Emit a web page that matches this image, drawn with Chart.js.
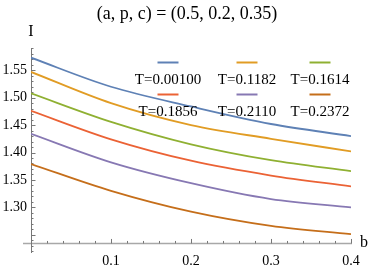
<!DOCTYPE html>
<html lang="en">
<head>
    <meta charset="UTF-8">
    <title>I vs b</title>
    <style>
        body {
            margin: 0;
            padding: 0;
            background: #ffffff;
        }
    </style>
</head>
<body>
    <canvas id="chart" width="374" height="268"></canvas>

    <script src="https://cdn.jsdelivr.net/npm/chart.js"></script>
    <script>
        // valores
        const bValues = [0, 0.1, 0.2, 0.3, 0.4];
        const seriesNames = ['T=0.00100', 'T=0.1182', 'T=0.1614', 'T=0.1856', 'T=0.2110', 'T=0.2372'];
        const serieT1 = [1.573, 1.520, 1.484, 1.452, 1.430];
        const serieT2 = [1.547, 1.490, 1.450, 1.425, 1.402];
        const serieT3 = [1.508, 1.456, 1.415, 1.386, 1.366];
        const serieT4 = [1.476, 1.424, 1.385, 1.358, 1.338];
        const serieT5 = [1.434, 1.382, 1.344, 1.315, 1.300];
        const serieT6 = [1.379, 1.330, 1.292, 1.266, 1.251];
        const cores = ['#5e81b5', '#e19c24', '#8fb032', '#eb6235', '#8778b3', '#c56e1a'];
        const xTicks = [0.1, 0.2, 0.3, 0.4];
        const yTicks = [1.30, 1.35, 1.40, 1.45, 1.50, 1.55];

        const series = [serieT1, serieT2, serieT3, serieT4, serieT5, serieT6];
        const serif = "'Liberation Serif', 'Times New Roman', serif";

        // eixos, marcas, título e legenda no estilo do Mathematica
        const decoracao = {
            id: 'decoracao',
            beforeDatasetsDraw(chart) {
                const ctx = chart.ctx;
                const xs = chart.scales.x;
                const ys = chart.scales.y;
                const x0 = xs.getPixelForValue(0);
                const yAxis = ys.getPixelForValue(1.234);

                ctx.save();
                ctx.strokeStyle = '#a8a8a8';
                ctx.lineWidth = 1.5;
                ctx.beginPath();
                ctx.moveTo(x0 - 8, yAxis);
                ctx.lineTo(xs.getPixelForValue(0.4) + 1, yAxis);
                ctx.stroke();
                ctx.lineWidth = 1;
                ctx.strokeStyle = '#777';
                ctx.beginPath();
                ctx.moveTo(x0 + 0.5, ys.top);
                ctx.lineTo(x0 + 0.5, ys.bottom);
                ctx.stroke();

                // marcas do eixo x
                ctx.beginPath();
                for (let i = 1; i <= 20; i++) {
                    const px = Math.round(xs.getPixelForValue(i * 0.02)) + 0.5;
                    const len = i % 5 === 0 ? 4.5 : 2.5;
                    ctx.moveTo(px, yAxis);
                    ctx.lineTo(px, yAxis - len);
                }
                // marcas do eixo y
                for (let k = 122; k <= 159; k++) {
                    const py = Math.round(ys.getPixelForValue(k / 100)) + 0.5;
                    const len = k % 5 === 0 ? 4.5 : 2.5;
                    ctx.moveTo(x0, py);
                    ctx.lineTo(x0 + len, py);
                }
                ctx.stroke();
                ctx.restore();
            },
            afterDraw(chart) {
                const ctx = chart.ctx;
                ctx.save();
                ctx.fillStyle = '#000';
                ctx.textAlign = 'center';
                ctx.textBaseline = 'middle';
                ctx.font = '18px ' + serif;
                ctx.fillText('(a, p, c) = (0.5, 0.2, 0.35)', 187, 14);
                ctx.font = '16px ' + serif;
                ctx.fillText('I', 31, 32);
                ctx.fillText('b', 364, 243);

                // legenda 3 x 2
                const colX = [168, 247, 320];
                const rowY = [80, 112];
                ctx.font = '15px ' + serif;
                seriesNames.forEach((nome, i) => {
                    const cx = colX[i % 3];
                    const cy = rowY[Math.floor(i / 3)];
                    ctx.strokeStyle = cores[i];
                    ctx.lineWidth = 2;
                    ctx.beginPath();
                    ctx.moveTo(cx - 10.5, cy - 17.5);
                    ctx.lineTo(cx + 10.5, cy - 17.5);
                    ctx.stroke();
                    ctx.fillText(nome, cx, cy);
                });
                ctx.restore();
            }
        };

        new Chart(document.getElementById('chart'), {
            type: 'line',
            data: {
                datasets: series.map((s, i) => ({
                    label: seriesNames[i],
                    data: s.map((v, j) => ({ x: bValues[j], y: v })),
                    borderColor: cores[i],
                    borderWidth: 1.8,
                    pointRadius: 0,
                    fill: false,
                    cubicInterpolationMode: 'monotone'
                }))
            },
            options: {
                responsive: false,
                animation: false,
                devicePixelRatio: 1,
                layout: { padding: { top: 48, right: 23, left: 0, bottom: 0 } },
                plugins: {
                    legend: { display: false },
                    title: { display: false },
                    tooltip: { enabled: false }
                },
                scales: {
                    x: {
                        type: 'linear',
                        min: 0,
                        max: 0.4,
                        grid: { display: false, drawTicks: false },
                        border: { display: false },
                        ticks: {
                            color: '#000',
                            font: { family: serif, size: 14 },
                            padding: 0,
                            maxRotation: 0,
                            autoSkip: false,
                            callback: v => v.toFixed(1)
                        },
                        afterBuildTicks: s => { s.ticks = xTicks.map(v => ({ value: v })); },
                        afterFit: s => { s.height = 15; }
                    },
                    y: {
                        type: 'linear',
                        min: 1.2166,
                        max: 1.5907,
                        grid: { display: false, drawTicks: false },
                        border: { display: false },
                        ticks: {
                            color: '#000',
                            font: { family: serif, size: 14 },
                            padding: 4,
                            autoSkip: false,
                            callback: v => v.toFixed(2)
                        },
                        afterBuildTicks: s => { s.ticks = yTicks.map(v => ({ value: v })); },
                        afterFit: s => { s.width = 31; }
                    }
                }
            },
            plugins: [decoracao]
        });
    </script>
</body>
</html>
